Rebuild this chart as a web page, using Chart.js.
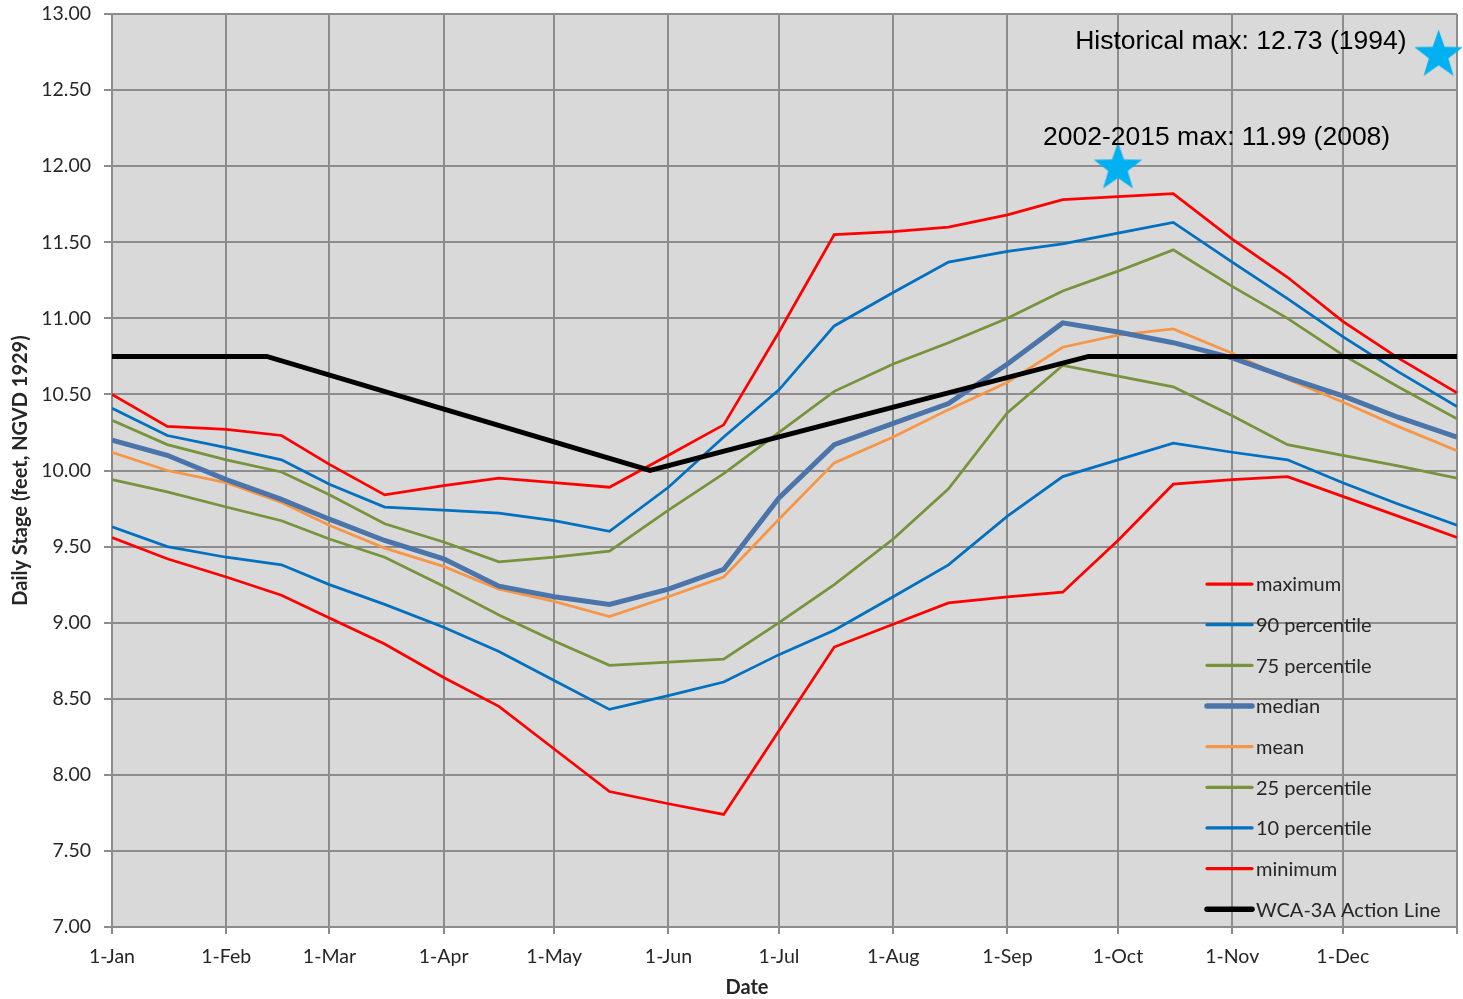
<!DOCTYPE html>
<html>
<head>
<meta charset="utf-8">
<script src="https://cdn.jsdelivr.net/npm/chart.js@4.4.1/dist/chart.umd.min.js"></script>
<style>
  html, body { margin: 0; padding: 0; background: #ffffff; }
  #wrap { width: 1463px; height: 999px; }
</style>
</head>
<body>
<div id="wrap"><canvas id="stage" width="1463" height="999"></canvas></div>
<script>
// Day-of-year positions of the month gridlines and their labels
const monthTickDays = [0, 31, 59, 90, 120, 151, 181, 212, 243, 273, 304, 334, 365];
const monthTickLabels = ['1-Jan', '1-Feb', '1-Mar', '1-Apr', '1-May', '1-Jun', '1-Jul',
                         '1-Aug', '1-Sep', '1-Oct', '1-Nov', '1-Dec', ''];

// Stage statistics, sampled on the 1st and 16th of each month (day of year)
const sampleDays = [0, 15, 31, 46, 59, 74, 90, 105, 120, 135, 151, 166, 181, 196, 212,
                    227, 243, 258, 273, 288, 304, 319, 334, 349, 365];

const maximum = [10.50, 10.29, 10.27, 10.23, 10.04, 9.84, 9.90, 9.95, 9.92, 9.89, 10.10, 10.30, 10.91,
                 11.55, 11.57, 11.60, 11.68, 11.78, 11.80, 11.82, 11.52, 11.27, 10.98, 10.74, 10.51];
const pct90   = [10.41, 10.23, 10.15, 10.07, 9.91, 9.76, 9.74, 9.72, 9.67, 9.60, 9.89, 10.22, 10.53,
                 10.95, 11.17, 11.37, 11.44, 11.49, 11.56, 11.63, 11.37, 11.13, 10.88, 10.65, 10.42];
const pct75   = [10.33, 10.17, 10.07, 9.99, 9.84, 9.65, 9.53, 9.40, 9.43, 9.47, 9.74, 9.98, 10.25,
                 10.52, 10.70, 10.84, 11.00, 11.18, 11.31, 11.45, 11.21, 11.00, 10.76, 10.55, 10.34];
const median  = [10.20, 10.10, 9.94, 9.81, 9.68, 9.54, 9.42, 9.24, 9.17, 9.12, 9.22, 9.35, 9.82,
                 10.17, 10.31, 10.44, 10.70, 10.97, 10.91, 10.84, 10.74, 10.61, 10.49, 10.35, 10.22];
const mean    = [10.12, 10.00, 9.92, 9.79, 9.64, 9.49, 9.37, 9.22, 9.14, 9.04, 9.17, 9.30, 9.68,
                 10.05, 10.22, 10.40, 10.58, 10.81, 10.89, 10.93, 10.77, 10.60, 10.45, 10.29, 10.13];
const pct25   = [9.94, 9.86, 9.76, 9.67, 9.55, 9.43, 9.24, 9.05, 8.88, 8.72, 8.74, 8.76, 9.00,
                 9.25, 9.55, 9.88, 10.38, 10.69, 10.62, 10.55, 10.36, 10.17, 10.10, 10.03, 9.95];
const pct10   = [9.63, 9.50, 9.43, 9.38, 9.25, 9.12, 8.97, 8.81, 8.62, 8.43, 8.52, 8.61, 8.79,
                 8.95, 9.17, 9.38, 9.70, 9.96, 10.07, 10.18, 10.12, 10.07, 9.92, 9.78, 9.64];
const minimum = [9.56, 9.42, 9.30, 9.18, 9.03, 8.86, 8.64, 8.45, 8.17, 7.89, 7.81, 7.74, 8.29,
                 8.84, 8.99, 9.13, 9.17, 9.20, 9.54, 9.91, 9.94, 9.96, 9.83, 9.70, 9.56];

// WCA-3A action line breakpoints
const actionDays   = [0, 42, 146, 265, 365];
const actionValues = [10.75, 10.75, 10.00, 10.75, 10.75];

// Record highs marked with stars
const recordDays   = [273, 360];
const recordValues = [11.99, 12.73];
const recordLabels = ['2002-2015 max: 11.99 (2008)', 'Historical max: 12.73 (1994)'];

const seriesNames = ['maximum', '90 percentile', '75 percentile', 'median', 'mean',
                     '25 percentile', '10 percentile', 'minimum', 'WCA-3A Action Line'];

const LABEL_FONT = "Lato, 'Noto Sans', sans-serif";
const TEXT_COLOR = '#262626';
const GRID_COLOR = '#8c8c8c';

function pairs(xs, ys) {
  return xs.map((x, i) => ({ x: x, y: ys[i] }));
}

function makeStar(radius, color) {
  const size = Math.ceil(radius * 2) + 2;
  const c = document.createElement('canvas');
  c.width = size; c.height = size;
  const g = c.getContext('2d');
  const cx = size / 2, cy = size / 2, inner = radius * 0.4;
  g.beginPath();
  for (let k = 0; k < 10; k++) {
    const r = k % 2 === 0 ? radius : inner;
    const a = -Math.PI / 2 + k * Math.PI / 5;
    const px = cx + r * Math.cos(a), py = cy + r * Math.sin(a);
    if (k === 0) g.moveTo(px, py); else g.lineTo(px, py);
  }
  g.closePath();
  g.fillStyle = color;
  g.fill();
  return c;
}
const starImage = makeStar(25.5, '#00b0f0');

function lineSet(label, values, color, width, order) {
  return {
    label: label,
    data: pairs(sampleDays, values),
    borderColor: color,
    backgroundColor: color,
    borderWidth: width,
    pointRadius: 0,
    tension: 0,
    order: order,
    inLegend: true
  };
}

const datasets = [
  lineSet(seriesNames[0], maximum, '#ff0000', 2.75, 1),
  lineSet(seriesNames[1], pct90,   '#0070c0', 2.75, 1),
  lineSet(seriesNames[2], pct75,   '#77933c', 2.75, 1),
  lineSet(seriesNames[3], median,  '#4a74aa', 5,    1),
  lineSet(seriesNames[4], mean,    '#f79646', 2.75, 1),
  lineSet(seriesNames[5], pct25,   '#77933c', 2.75, 1),
  lineSet(seriesNames[6], pct10,   '#0070c0', 2.75, 1),
  lineSet(seriesNames[7], minimum, '#ff0000', 2.75, 1),
  {
    label: seriesNames[8],
    data: pairs(actionDays, actionValues),
    borderColor: '#000000',
    backgroundColor: '#000000',
    borderWidth: 5,
    pointRadius: 0,
    tension: 0,
    order: 0,
    inLegend: true
  },
  {
    label: 'records',
    data: pairs(recordDays, recordValues),
    showLine: false,
    pointStyle: starImage,
    pointRadius: 25,
    clip: false,
    order: -1,
    inLegend: false
  }
];

// Grey plot background
const plotBackground = {
  id: 'plotBackground',
  beforeDraw(chart) {
    const { ctx, chartArea: a } = chart;
    ctx.save();
    ctx.fillStyle = '#d9d9d9';
    ctx.fillRect(a.left, a.top, a.right - a.left, a.bottom - a.top);
    ctx.restore();
  }
};

// Legend drawn inside the lower right of the plot
const insideLegend = {
  id: 'insideLegend',
  afterDraw(chart) {
    const { ctx, chartArea: a } = chart;
    const x0 = a.right - 250, x1 = a.right - 205, tx = a.right - 201;
    let y = a.bottom - 343;
    const step = 40.65;
    ctx.save();
    ctx.font = '20px ' + LABEL_FONT;
    ctx.textBaseline = 'middle';
    ctx.textAlign = 'left';
    chart.data.datasets.forEach(ds => {
      if (!ds.inLegend) return;
      ctx.strokeStyle = ds.borderColor;
      ctx.lineWidth = ds.borderWidth + 0.5;
      ctx.lineCap = 'round';
      ctx.beginPath();
      ctx.moveTo(x0, y);
      ctx.lineTo(x1, y);
      ctx.stroke();
      ctx.fillStyle = TEXT_COLOR;
      ctx.fillText(ds.label, tx, y + 1);
      y += step;
    });
    ctx.restore();
  }
};

// Captions beside the record stars, and the x axis title
const captions = {
  id: 'captions',
  afterDraw(chart) {
    const { ctx, chartArea: a } = chart;
    const idx = chart.data.datasets.findIndex(d => d.label === 'records');
    const pts = chart.getDatasetMeta(idx).data;
    ctx.save();
    ctx.fillStyle = '#000000';
    ctx.font = "26.5px 'Liberation Sans', Arial, sans-serif";
    ctx.textBaseline = 'alphabetic';
    ctx.textAlign = 'left';
    ctx.fillText(recordLabels[0], pts[0].x - 75, pts[0].y - 23);
    ctx.textAlign = 'right';
    ctx.fillText(recordLabels[1], pts[1].x - 32, pts[1].y - 6);

    ctx.fillStyle = TEXT_COLOR;
    ctx.font = 'bold 20px ' + LABEL_FONT;
    ctx.textAlign = 'center';
    ctx.textBaseline = 'middle';
    ctx.fillText('Date', a.left + 635, a.bottom + 61);
    ctx.restore();
  }
};

new Chart(document.getElementById('stage'), {
  type: 'line',
  data: { datasets: datasets },
  plugins: [plotBackground, insideLegend, captions],
  options: {
    responsive: false,
    animation: false,
    devicePixelRatio: 1,
    events: [],
    layout: { autoPadding: false, padding: { top: 14, right: 6, bottom: 0, left: 0 } },
    plugins: { legend: { display: false }, tooltip: { enabled: false } },
    scales: {
      x: {
        type: 'linear',
        min: 0,
        max: 365,
        afterBuildTicks(scale) {
          scale.ticks = monthTickDays.map(v => ({ value: v }));
        },
        afterFit(scale) {
          scale.height = 72;
          scale.paddingLeft = 0;
          scale.paddingRight = 0;
        },
        ticks: {
          autoSkip: false,
          maxRotation: 0,
          padding: 11,
          color: TEXT_COLOR,
          font: { family: LABEL_FONT, size: 19.5 },
          callback: (value, index) => monthTickLabels[index]
        },
        grid: { color: GRID_COLOR, lineWidth: 2, tickLength: 7, drawTicks: true },
        border: { color: GRID_COLOR, width: 2 }
      },
      y: {
        min: 7,
        max: 13,
        afterFit(scale) {
          scale.width = 112;
          scale.paddingTop = 0;
          scale.paddingBottom = 0;
        },
        ticks: {
          stepSize: 0.5,
          padding: 13,
          color: TEXT_COLOR,
          font: { family: LABEL_FONT, size: 19.5 },
          callback: v => Number(v).toFixed(2)
        },
        grid: { color: GRID_COLOR, lineWidth: 2, tickLength: 8, drawTicks: true },
        border: { color: GRID_COLOR, width: 2 },
        title: {
          display: true,
          text: 'Daily Stage (feet, NGVD 1929)',
          color: TEXT_COLOR,
          font: { family: LABEL_FONT, size: 20, weight: 'bold' },
          padding: { top: 9, bottom: 0 }
        }
      }
    }
  }
});
</script>
</body>
</html>
